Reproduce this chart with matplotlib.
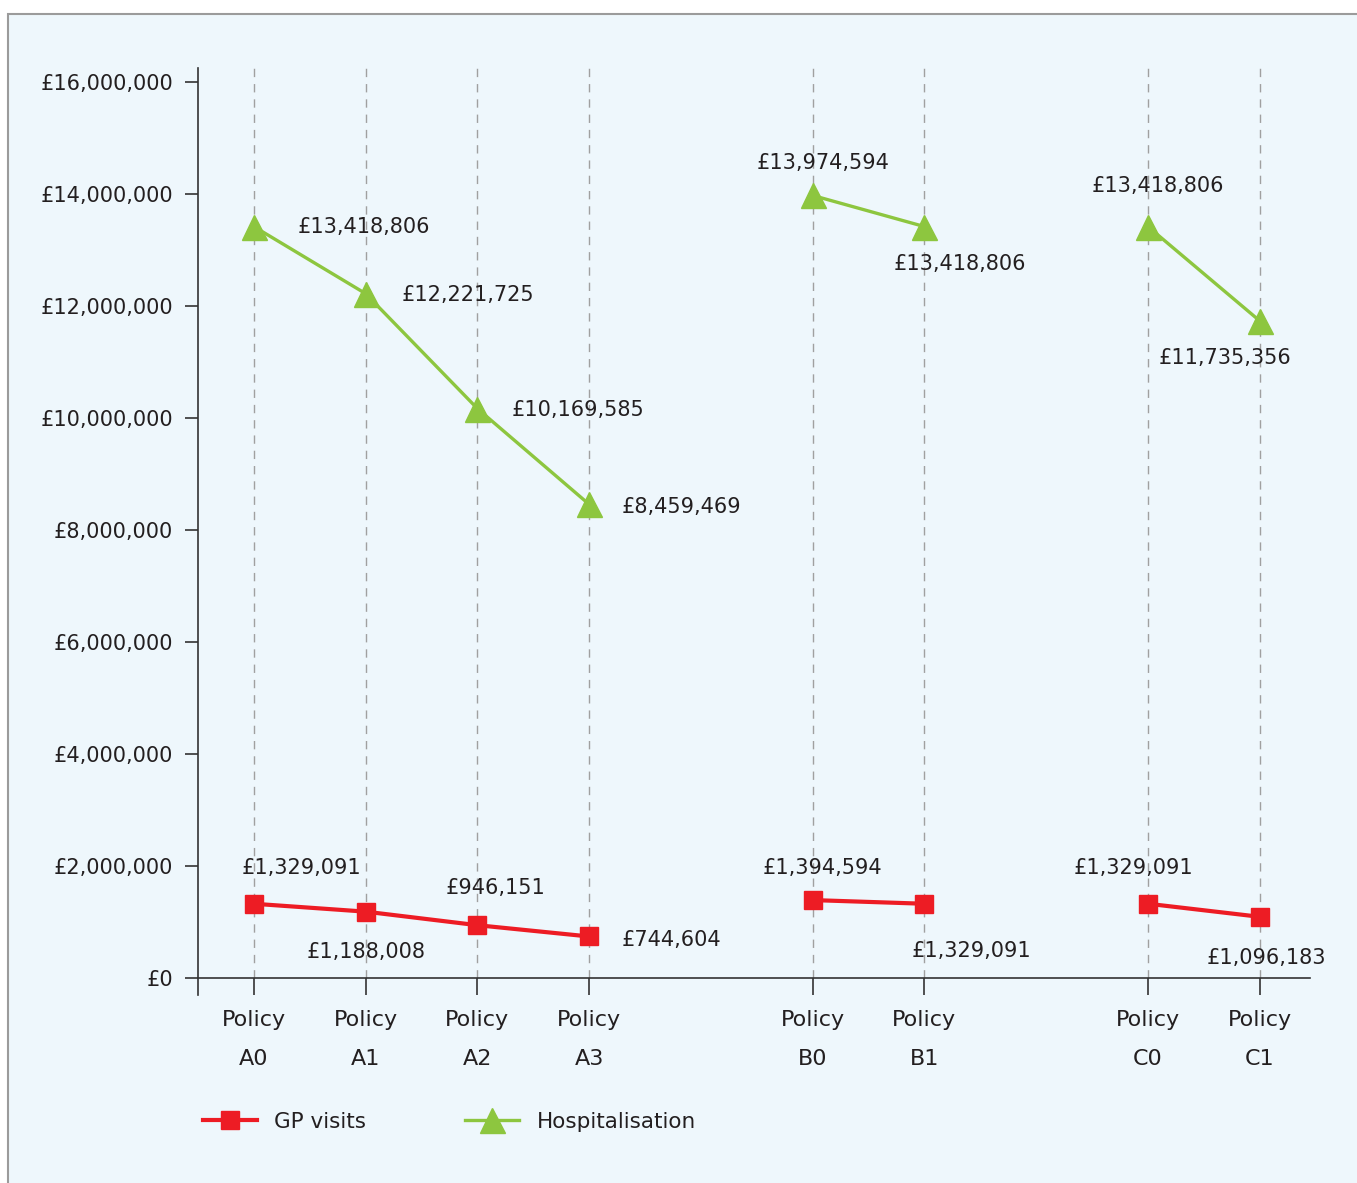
import matplotlib
matplotlib.use('Agg')
import matplotlib.pyplot as plt
from matplotlib.patches import Rectangle
from matplotlib.ticker import FuncFormatter

plt.rcParams['font.family'] = ['DejaVu Sans']

# 数据
policies = ['Policy\nA0', 'Policy\nA1', 'Policy\nA2', 'Policy\nA3',
            'Policy\nB0', 'Policy\nB1', 'Policy\nC0', 'Policy\nC1']
x_pos = [0, 1, 2, 3, 5, 6, 8, 9]
groups = [[0, 1, 2, 3], [4, 5], [6, 7]]

gp_visits = [1329091, 1188008, 946151, 744604, 1394594, 1329091, 1329091, 1096183]
hospitalisation = [13418806, 12221725, 10169585, 8459469,
                   13974594, 13418806, 13418806, 11735356]

# 标签偏移 (像素): dx, dy, ha
hosp_offsets = [(44, 0, 'left'), (36, -1, 'left'), (34, -1, 'left'), (32, -3, 'left'),
                (10, 32, 'center'), (35, -37, 'center'), (10, 41, 'center'), (-35, -37, 'center')]
gp_offsets = [(48, 36, 'center'), (0, -40, 'center'), (18, 37, 'center'), (32, -4, 'left'),
              (10, 32, 'center'), (47, -47, 'center'), (-15, 36, 'center'), (7, -41, 'center')]

RED = '#ED1C24'
GREEN = '#8DC63F'
BG = '#EEF7FC'
TXT = '#231F20'
AX = '#333333'

W, H = 1357, 1183
fig = plt.figure(figsize=(W / 100, H / 100), dpi=100)
fig.patch.set_facecolor('white')
fig.patches.append(Rectangle((8 / W, -0.05), 1.1, 1 - 14 / H + 0.05,
                             transform=fig.transFigure, facecolor=BG,
                             edgecolor='#9B9B9B', linewidth=1.5, zorder=-10))

ax = fig.add_axes([198 / W, 1 - 995 / H, (1310 - 198) / W, (995 - 68) / H])
ax.set_facecolor('none')
ax.set_zorder(5)

ymax = 16.25e6
ax.set_xlim(-0.5, 9.45)
ax.set_ylim(-0.3e6, ymax)

# 虚线网格
ax.vlines(x_pos, 0, ymax, colors='#A0A0A0', linestyles=(0, (6, 5)), linewidth=1, zorder=1)

for gi, idx in enumerate(groups):
    xs = [x_pos[i] for i in idx]
    ax.plot(xs, [gp_visits[i] for i in idx], color=RED, lw=3, marker='s', ms=13,
            zorder=3, label='GP visits' if gi == 0 else None)
    ax.plot(xs, [hospitalisation[i] for i in idx], color=GREEN, lw=2.4, marker='^', ms=18,
            zorder=3, label='Hospitalisation' if gi == 0 else None)

for i in range(len(x_pos)):
    dx, dy, ha = hosp_offsets[i]
    ax.annotate(f'£{hospitalisation[i]:,}', (x_pos[i], hospitalisation[i]),
                xytext=(dx, dy), textcoords='offset pixels', ha=ha, va='center',
                fontsize=15, color=TXT, zorder=4)
    dx, dy, ha = gp_offsets[i]
    ax.annotate(f'£{gp_visits[i]:,}', (x_pos[i], gp_visits[i]),
                xytext=(dx, dy), textcoords='offset pixels', ha=ha, va='center',
                fontsize=15, color=TXT, zorder=4)

# 坐标轴
for s in ['top', 'right']:
    ax.spines[s].set_visible(False)
ax.spines['bottom'].set_position(('data', 0))
ax.spines['left'].set_color(AX)
ax.spines['bottom'].set_color(AX)
ax.spines['left'].set_linewidth(1.2)
ax.spines['bottom'].set_linewidth(1.2)

ax.set_yticks([i * 2e6 for i in range(9)])
ax.yaxis.set_major_formatter(FuncFormatter(lambda v, p: f'£{int(v):,}'))
ax.set_xticks(x_pos)
ax.set_xticklabels(policies, linespacing=2.15)
ax.tick_params(axis='y', direction='out', length=9.5, width=1.2, color=AX,
               pad=8.5, labelsize=15, labelcolor=TXT)
ax.tick_params(axis='x', direction='out', length=12, width=1.2, color=AX,
               pad=11, labelsize=16, labelcolor=TXT)

fig.legend(loc='center left', bbox_to_anchor=(184 / W, 1 - 1122 / H), ncol=2,
           frameon=False, fontsize=15.5, handlelength=2.5, columnspacing=4.6,
           handletextpad=0.8, labelcolor=TXT)

plt.savefig('out.png', dpi=100, facecolor=fig.get_facecolor())
